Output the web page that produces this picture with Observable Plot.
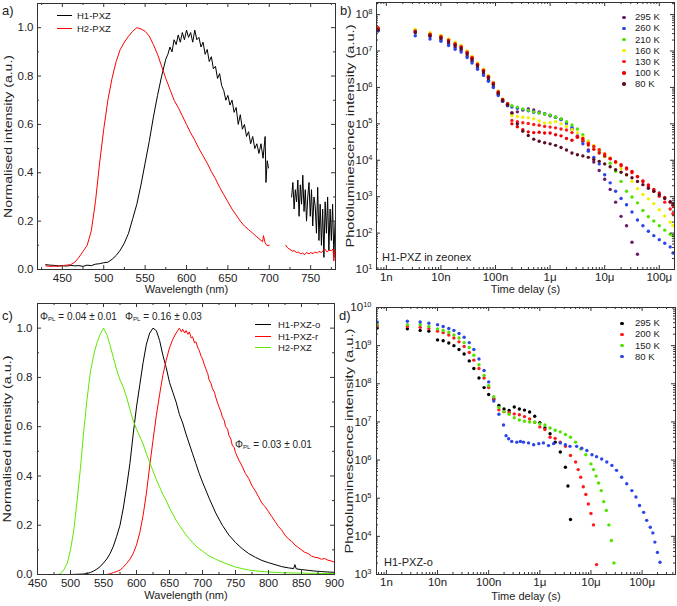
<!DOCTYPE html>
<html><head><meta charset="utf-8">
<script src="https://cdn.jsdelivr.net/npm/d3@7"></script>
<script src="https://cdn.jsdelivr.net/npm/@observablehq/plot@0.6"></script>
<style>
html,body{margin:0;padding:0;background:#fff;}
#root{position:relative;width:677px;height:606px;overflow:hidden;background:#fff;font-family:"Liberation Sans",Arial,sans-serif;color:#222;}
.pn{position:absolute;}
.pn svg{overflow:visible;display:block;}
.lb{position:absolute;white-space:nowrap;line-height:1;transform:translateY(-50%);}
.lb sub{font-size:0.62em;vertical-align:-0.25em;}
.sw{position:absolute;height:0;}
.dt{position:absolute;border-radius:50%;}
</style></head><body><div id="root"></div><script>
// ---------------- Panel a: steady-state spectra ----------------
const aH1Wave = [430,435,440,445,450,455,460,465,470,475,480,485,490,495,500,505,510,515,520,525,530,535,540,545,550,555,560,565,570,575,
577.5,580,582.5,585,587.5,590,592.5,595,597.5,600,602.5,605,607.5,610,612.5,615,617.5,620,622.5,625,627.5,630,632.5,635,637.5,640,642.5,645,647.5,650,652.5,655,657.5,660,662.5,665,667.5,670,672.5,675,677.5,680,682.5,685,687.5,690,692.5,695,
696,697.5,699,710,
727,728.5,730,731.5,733,734.5,736,737.5,739,740.5,742,743.5,745,746.5,748,749.5,751,752.5,754,755.5,757,758.5,760,761.5,763,764.5,766,767.5,769,770.5,772,773.5,775,776.5,778,779.5];
const aH1 = [.02,.018,.017,.015,.016,.014,.017,.015,.016,.013,.018,.016,.022,.024,.028,.03,.042,.058,.08,.11,.15,.21,.27,.35,.44,.53,.63,.72,.8,.87,
.89,.92,.9,.95,.93,.97,.94,.98,.95,.99,.96,.98,.94,.99,.95,.96,.92,.94,.89,.91,.86,.88,.83,.84,.79,.81,.76,.74,.7,.72,.68,.7,.65,.67,.6,.64,.58,.6,.55,.57,.52,.55,.5,.52,.48,.52,.46,.55,
.36,.45,.42,null,
.3,.36,.25,.33,.28,.37,.22,.35,.27,.39,.24,.33,.2,.3,.36,.22,.33,.18,.3,.26,.15,.34,.12,.27,.1,.25,.05,.28,.15,.3,.08,.25,.12,.27,.05,.2];
const aH2Wave = [430,435,440,445,450,455,460,465,470,475,480,485,490,495,500,505,510,515,520,525,530,535,540,545,550,555,560,565,570,575,580,585,590,595,600,605,610,615,620,625,630,635,640,645,650,655,660,665,670,675,680,685,690,
692,693,695,697,700,710,
720,722,725,728,730,733,735,738,740,743,745,748,750,753,755,758,760,763,765,767,770,772,775,777,778,779,780];
const aH2 = [.015,.013,.014,.013,.016,.018,.02,.03,.05,.075,.1,.16,.28,.44,.58,.7,.79,.86,.91,.94,.965,.985,1.0,.995,.985,.965,.93,.89,.84,.79,.745,.7,.67,.635,.6,.565,.535,.5,.47,.44,.405,.375,.34,.31,.28,.25,.225,.2,.18,.165,.15,.135,.12,
.115,.14,.11,.1,.1,null,
.1,.09,.083,.076,.078,.07,.072,.065,.068,.062,.07,.065,.07,.066,.072,.068,.075,.07,.078,.085,.072,.08,.078,.085,.035,.08,.085];
const aSeries = [["H1-PXZ", "#000000", aH1Wave, aH1], ["H2-PXZ", "#ff0000", aH2Wave, aH2]];
const aXTicks = [450,500,550,600,650,700,750], aXMinor = [425,475,525,575,625,675,725,775];
const linYTicks = [0,0.2,0.4,0.6,0.8,1.0], linYMinor = [0.1,0.3,0.5,0.7,0.9];

// ---------------- Panel b: H1-PXZ in zeonex, transient decay (log10 values) ----------------
const bTimeExp = [-9.15,-8.47,-8.2,-8.0,-7.86,-7.74,-7.63,-7.52,-7.43,-7.33,-7.22,-7.13,-7.04,-6.95,-6.87,-6.78,
-6.7,-6.6,-6.5,-6.4,-6.3,-6.2,-6.1,-6.0,-5.9,-5.8,-5.7,-5.6,-5.5,-5.4,-5.3,-5.2,-5.1,-5.0,-4.9,-4.8,-4.7,-4.6,-4.5,-4.4,-4.3,-4.2,-4.1,-4.0,-3.9,-3.8,-3.75];
const b295 = [7.58,7.5,7.4,7.3,7.2,7.1,7.02,6.86,6.72,6.54,6.38,6.2,6.02,5.8,5.62,5.5,
5.3,5.33,5.38,5.41,5.38,5.33,5.28,5.22,5.18,5.12,5.02,4.85,4.67,4.52,4.28,3.95,3.72,3.48,3.2,2.85,2.46,2.2,1.75,1.42,null,null,null,null,null,null,null];
const b260 = [7.55,7.42,7.33,7.27,7.15,7.05,6.97,6.82,6.67,6.5,6.33,6.17,6.0,5.78,5.62,5.5,
5.46,5.43,5.39,5.36,5.32,5.3,5.27,5.24,5.18,5.12,5.02,4.9,4.65,4.45,4.25,4.08,3.9,3.6,3.38,3.15,2.95,2.78,2.58,2.36,2.2,2.05,1.93,1.82,1.72,1.62,1.45];
const b210 = [7.6,7.57,7.48,7.42,7.32,7.22,7.14,6.99,6.84,6.66,6.49,6.31,6.12,5.88,5.68,5.57,
5.5,5.46,5.41,5.37,5.33,5.3,5.27,5.24,5.19,5.14,5.06,4.97,4.86,4.7,4.52,4.37,4.24,4.1,3.92,3.7,3.42,3.15,2.99,2.83,2.62,2.45,2.33,2.2,2.08,1.97,1.93];
const b160 = [7.63,7.6,7.5,7.43,7.33,7.24,7.15,7.0,6.85,6.67,6.5,6.33,6.14,5.9,5.68,5.55,
5.23,5.2,5.18,5.17,5.14,5.08,5.02,5.03,5.06,5.0,4.93,4.84,4.76,4.63,4.52,4.41,4.3,4.18,4.06,3.93,3.77,3.6,3.42,3.22,3.06,2.94,2.81,2.64,2.47,2.3,2.21];
const b130 = [7.64,7.55,7.46,7.4,7.3,7.2,7.12,6.97,6.82,6.64,6.47,6.3,6.12,5.88,5.67,5.55,
5.09,5.06,5.03,5.01,4.98,4.96,4.93,4.91,4.89,4.86,4.83,4.76,4.65,4.55,4.47,4.38,4.29,4.17,4.05,3.95,3.85,3.76,3.66,3.55,3.42,3.28,3.15,3.01,2.85,2.66,2.53];
const b100 = [7.6,7.53,7.44,7.37,7.28,7.18,7.1,6.95,6.8,6.62,6.45,6.28,6.1,5.86,5.66,5.54,
5.0,4.92,4.84,4.78,4.76,4.77,4.75,4.75,4.7,4.67,4.6,4.55,4.63,4.6,4.42,4.3,4.2,4.12,4.04,3.96,3.88,3.79,3.69,3.55,3.43,3.32,3.2,3.1,2.98,2.85,2.76];
const b80 = [7.58,7.52,7.42,7.35,7.25,7.15,7.07,6.92,6.77,6.6,6.43,6.26,6.08,5.84,5.64,5.52,
5.3,5.0,4.8,4.68,4.58,4.52,4.48,4.45,4.41,4.35,4.28,4.2,4.15,4.12,4.08,4.02,3.97,3.9,3.82,3.74,3.67,3.6,3.52,3.42,3.33,3.23,3.15,3.05,2.95,2.86,2.8];
const bSeries = [["295 K","#6a1b6b",b295],["260 K","#2a45e8",b260],["210 K","#4fe300",b210],["160 K","#f0f000",b160],["130 K","#ff1a1a",b130],["100 K","#ee0000",b100],["80 K","#5c0d22",b80]];

// ---------------- Panel c: steady-state spectra with PLQY ----------------
const cBlackWave = [450,500,520,525,530,535,540,545,550,555,560,565,570,575,580,585,590,595,600,605,610,615,620,625,630,635,640,645,650,655,660,665,670,675,680,685,690,695,700,
710,720,730,740,750,760,770,780,790,800,810,820,830,838,840,842,850,860,870,880,890,900];
const cBlack = [0,0,.002,.004,.008,.014,.022,.032,.047,.063,.085,.115,.155,.2,.27,.355,.45,.57,.68,.77,.86,.935,.98,1.0,.99,.95,.89,.84,.78,.74,.7,.65,.615,.57,.53,.49,.45,.41,.375,
.31,.25,.2,.16,.13,.105,.085,.07,.057,.048,.04,.032,.027,.024,.04,.023,.02,.017,.014,.012,.01,.009];
const cRedWave = [555,560,565,570,575,580,585,590,595,600,605,610,615,620,625,630,635,640,645,650,655,660,665,
668,670,673,675,678,680,683,685,688,690,693,695,698,700,703,705,708,710,713,715,718,720,723,725,728,730,733,735,738,740,743,745,748,750,
755,760,765,770,775,780,785,790,795,800,805,810,815,820,825,830,835,840,845,850,855,860,865,870,875,880,885,890,895,900];
const cRed = [0,.003,.008,.012,.018,.03,.045,.062,.085,.12,.17,.24,.33,.44,.545,.645,.73,.81,.87,.92,.955,.98,1.0,
.985,.995,.98,.99,.975,.985,.96,.965,.94,.945,.92,.91,.885,.875,.85,.835,.815,.79,.775,.755,.74,.72,.695,.68,.66,.64,.625,.6,.59,.565,.55,.525,.515,.495,
.465,.44,.41,.39,.36,.34,.315,.29,.275,.255,.235,.215,.195,.18,.16,.145,.135,.12,.11,.1,.09,.085,.075,.07,.068,.062,.065,.058,.055,.05];
const cGreenWave = [450,460,470,480,485,490,495,500,505,510,515,520,525,530,535,540,545,550,555,560,565,570,575,580,585,590,595,600,605,610,615,620,625,630,635,640,645,650,655,660,665,670,675,680,685,690,695,700,
710,720,730,740,750,760,770,780,790,800,810,820,830,840,850,860,870,880,890,900];
const cGreen = [0,0,0,0,.003,.02,.045,.1,.18,.3,.43,.58,.71,.82,.89,.94,.975,1.0,.975,.93,.88,.83,.79,.76,.72,.67,.625,.59,.56,.53,.49,.455,.42,.385,.355,.325,.3,.27,.245,.22,.2,.18,.16,.145,.13,.115,.105,.095,
.075,.062,.05,.04,.03,.024,.018,.015,.012,.01,.009,.007,.007,.006,.006,.005,.005,.004,.004,.004];
const cSeries = [["H1-PXZ-o","#000000",cBlackWave,cBlack],["H1-PXZ-r","#ff0000",cRedWave,cRed],["H2-PXZ","#5ee800",cGreenWave,cGreen]];
const cXTicks = [450,500,550,600,650,700,750,800,850,900], cXMinor = [475,525,575,625,675,725,775,825,875];
const cNotes = [["0.04 ± 0.01",40,317],["0.16 ± 0.03",125,317],["0.03 ± 0.01",235,445]];

// ---------------- Panel d: H1-PXZ-o transient decay (log10 values) ----------------
const dEarlyExp = [-9.18,-8.59,-8.34,-8.17,-8.0,-7.89,-7.78,-7.68,-7.58,-7.48,-7.38,-7.29,-7.19,-7.09,-7.0,-6.9,-6.8];
const d295T = dEarlyExp.concat([-6.7,-6.6,-6.5,-6.4,-6.3,-6.2,-6.1,-6.0,-5.9,-5.8,-5.7,-5.6,-5.5,-5.45,-5.4]);
const d295 = [9.46,9.44,9.4,9.38,9.15,9.13,9.07,9.0,8.9,8.78,8.6,8.4,8.15,7.9,7.72,7.6,7.43,
7.34,7.3,7.39,7.34,7.31,7.26,7.15,6.98,6.84,6.69,6.47,6.21,5.81,5.32,4.44];
const d200T = dEarlyExp.concat([-6.7,-6.6,-6.5,-6.4,-6.3,-6.2,-6.1,-6.0,-5.9,-5.8,-5.7,-5.6,-5.5,-5.4,-5.3,-5.25,-5.2,-5.15,-5.1,-5.05,-5.0,-4.95,-4.89]);
const d200 = [9.53,9.5,9.48,9.45,9.38,9.34,9.28,9.2,9.1,8.98,8.82,8.62,8.4,8.15,7.9,7.6,7.32,
7.27,7.24,7.21,7.19,7.14,7.08,6.99,6.87,6.8,6.6,6.57,6.47,6.36,6.12,5.95,5.75,5.55,5.3,5.1,4.85,4.6,4.3,3.26];
const d150T = dEarlyExp.concat([-6.7,-6.6,-6.5,-6.4,-6.3,-6.2,-6.1,-6.0,-5.9,-5.8,-5.7,-5.6,-5.5,-5.4,-5.3,-5.2,-5.1,-5.0,-4.95,-4.9,-4.85,-4.8,-4.75,-4.7,-4.65,-4.6,-4.55]);
const d150 = [9.57,9.55,9.55,9.5,9.44,9.4,9.35,9.28,9.2,9.08,8.95,8.75,8.5,8.22,7.95,7.66,7.38,
7.27,7.2,7.11,7.05,7.02,7.0,6.99,6.95,6.92,6.84,6.78,6.74,6.67,6.6,6.47,6.29,6.14,5.9,5.75,5.58,5.4,5.2,4.91,4.68,4.3,3.89,3.3];
const d80T = dEarlyExp.concat([-6.71,-6.66,-6.61,-6.55,-6.45,-6.38,-6.32,-6.22,-6.12,-6.02,-5.93,-5.83,-5.73,-5.6,-5.5,-5.41,-5.28,-5.18,-5.08,-4.98,-4.89,-4.79,-4.69,-4.59,-4.5,-4.4,-4.3,-4.2,-4.12,-4.05,-3.97,-3.91,-3.84,-3.79,-3.75,-3.7,-3.65]);
const d80 = [9.62,9.64,9.62,9.59,9.55,9.5,9.45,9.4,9.32,9.22,9.08,8.9,8.65,8.35,8.05,7.55,7.2,
6.92,6.64,6.56,6.49,6.47,6.49,6.47,6.45,6.4,6.43,6.45,6.38,6.43,6.45,6.4,6.36,6.36,6.31,6.25,6.14,6.09,6.03,5.95,5.86,5.73,5.55,5.38,5.2,5.03,4.81,4.63,4.42,4.24,4.09,3.85,3.58,3.32];
const dSeries = [["295 K","#000000",d295T,d295],["200 K","#ff1a1a",d200T,d200],["150 K","#4fe300",d150T,d150],["80 K","#2a45e8",d80T,d80]];

const timeTicks = [1e-9,1e-8,1e-7,1e-6,1e-5,1e-4];
const timeLabels = ["1n","10n","100n","1μ","10μ","100μ"];

// ---------------- helpers ----------------
const root = document.getElementById("root");
const FONT = '"Liberation Sans", Arial, sans-serif';
const AX = "#333";
function logMinor(lo, hi) {
  const out = [];
  for (let e = Math.floor(Math.log10(lo)) - 1; e <= Math.ceil(Math.log10(hi)); e++)
    for (let m = 2; m <= 9; m++) { const v = m * Math.pow(10, e); if (v > lo && v < hi) out.push(v); }
  return out;
}
const tFmt = d => timeLabels[timeTicks.indexOf(d)];
const powFmt = d => "10^" + Math.round(Math.log10(d));

function panel(o) {
  const [mt, mr, mb, ml] = o.margins;
  const W = o.width - ml - mr, H = o.height - mt - mb;
  const marks = [
    ...o.marks,
    Plot.tickX(o.xTicks, {x: d => d, insetTop: H - 4, stroke: AX}),
    Plot.tickX(o.xTicks, {x: d => d, insetBottom: H - 4, stroke: AX}),
    Plot.tickX(o.xMinor, {x: d => d, insetTop: H - 2, stroke: AX}),
    Plot.tickX(o.xMinor, {x: d => d, insetBottom: H - 2, stroke: AX}),
    Plot.tickY(o.yTicks, {y: d => d, insetRight: W - 4, stroke: AX}),
    Plot.tickY(o.yTicks, {y: d => d, insetLeft: W - 4, stroke: AX}),
    Plot.tickY(o.yMinor, {y: d => d, insetRight: W - 2, stroke: AX}),
    Plot.tickY(o.yMinor, {y: d => d, insetLeft: W - 2, stroke: AX}),
    Plot.frame({stroke: AX}),
    Plot.axisX(o.xTicks, {tickSize: 0, tickPadding: o.xPad, tickFormat: o.xFmt, label: null, fontSize: 11.5}),
    Plot.axisY(o.yTicks, {tickSize: 0, tickPadding: o.yPad, tickFormat: o.yFmt, label: null, fontSize: 11.5}),
    Plot.text([o.xTitle], {text: d => d, frameAnchor: "bottom", dy: o.xTitleDy, fontSize: 11}),
    Plot.text([o.yTitle], {text: d => d, frameAnchor: "left", dx: o.yTitleDx, rotate: -90, fontSize: 11.5})
  ];
  const svg = Plot.plot({
    width: o.width, height: o.height,
    marginTop: mt, marginRight: mr, marginBottom: mb, marginLeft: ml,
    x: o.x, y: o.y,
    style: {fontFamily: FONT, fontSize: "12px", color: "#222", background: "transparent", overflow: "visible"},
    marks
  });
  const s = d3.select(svg);
  s.selectAll("text").filter(function() { return this.textContent === o.yTitle; })
    .attr("text-anchor", "start").attr("x", -o.yTitleLen / 2)
    .attr("textLength", o.yTitleLen).attr("lengthAdjust", "spacingAndGlyphs");
  if (o.logY) {
    s.selectAll("text").filter(function() { return /^10\^/.test(this.textContent); }).each(function() {
      const [b, e] = this.textContent.split("^");
      const t = d3.select(this); t.text(null);
      t.append("tspan").text(b);
      t.append("tspan").attr("dy", "-0.55em").attr("font-size", "7.5px").text(e);
    });
  }
  const div = document.createElement("div");
  div.className = "pn"; div.style.left = o.left + "px"; div.style.top = o.top + "px";
  div.appendChild(svg); root.appendChild(div);
}
function label(html, x, y, size) {
  const el = document.createElement("div");
  el.className = "lb"; el.style.left = x + "px"; el.style.top = y + "px"; el.style.fontSize = size + "px";
  el.innerHTML = html; root.appendChild(el);
}
function swatchLine(x, y, w, color) {
  const el = document.createElement("div");
  el.className = "sw"; el.style.left = x + "px"; el.style.top = (y - 0.75) + "px"; el.style.width = w + "px";
  el.style.borderTop = "1.5px solid " + color; root.appendChild(el);
}
function swatchDot(x, y, color) {
  const el = document.createElement("div");
  el.className = "dt"; el.style.left = (x - 1.8) + "px"; el.style.top = (y - 1.8) + "px";
  el.style.width = "3.6px"; el.style.height = "3.6px"; el.style.background = color; root.appendChild(el);
}
const lineRows = (wave, vals) => wave.map((w, i) => ({w, v: vals[i]}));
const dotRows = (texp, vals) => texp.map((e, i) => ({t: Math.pow(10, e), v: vals[i] == null ? null : Math.pow(10, vals[i])})).filter(d => d.v != null);

// ---------------- Panel a ----------------
panel({
  left: 0, top: 0, width: 338, height: 300, margins: [3, 3, 31, 37],
  x: {domain: [420, 780]}, y: {domain: [0, 1.1]},
  marks: aSeries.map(([n, c, w, v]) => Plot.line(lineRows(w, v), {x: "w", y: "v", stroke: c, strokeWidth: 1, clip: true})),
  xTicks: aXTicks, xMinor: aXMinor, yTicks: linYTicks, yMinor: linYMinor,
  xFmt: d => String(d), yFmt: d => d.toFixed(1), xPad: 4, yPad: 4,
  xTitle: "Wavelength (nm)", xTitleDy: 23, yTitle: "Normalised intensity (a.u.)", yTitleDx: -29, yTitleLen: 163
});

// ---------------- Panel b ----------------
panel({
  left: 338, top: 0, width: 339, height: 300, margins: [2, 3, 31, 38],
  x: {type: "log", domain: [6.6e-10, 1.9e-4]}, y: {type: "log", domain: [10, 2.15e8]},
  marks: bSeries.map(([n, c, v]) => Plot.dot(dotRows(bTimeExp, v), {x: "t", y: "v", fill: c, r: 1.7, clip: true})),
  xTicks: timeTicks, xMinor: logMinor(6.6e-10, 1.9e-4),
  yTicks: [1e1,1e2,1e3,1e4,1e5,1e6,1e7,1e8], yMinor: logMinor(10, 2.15e8),
  xFmt: tFmt, yFmt: powFmt, xPad: 3, yPad: 4, logY: true,
  xTitle: "Time delay (s)", xTitleDy: 23.5, yTitle: "Photoluminescence intensity (a.u.)", yTitleDx: -26, yTitleLen: 223
});

// ---------------- Panel c ----------------
panel({
  left: 0, top: 300, width: 338, height: 306, margins: [3, 4, 32, 37],
  x: {domain: [450, 900]}, y: {domain: [0, 1.1]},
  marks: cSeries.map(([n, c, w, v]) => Plot.line(lineRows(w, v), {x: "w", y: "v", stroke: c, strokeWidth: 1, clip: true})),
  xTicks: cXTicks, xMinor: cXMinor, yTicks: linYTicks, yMinor: linYMinor,
  xFmt: d => String(d), yFmt: d => d.toFixed(1), xPad: 4.5, yPad: 5,
  xTitle: "Wavelength (nm)", xTitleDy: 24.5, yTitle: "Normalised intensity (a.u.)", yTitleDx: -30, yTitleLen: 167
});

// ---------------- Panel d ----------------
panel({
  left: 338, top: 300, width: 339, height: 306, margins: [7, 2, 32, 38],
  x: {type: "log", domain: [6.4e-10, 4.5e-4]}, y: {type: "log", domain: [1e3, 1e10]},
  marks: dSeries.map(([n, c, t, v]) => Plot.dot(dotRows(t, v), {x: "t", y: "v", fill: c, r: 1.7, clip: true})),
  xTicks: timeTicks, xMinor: logMinor(6.4e-10, 4.5e-4),
  yTicks: [1e3,1e4,1e5,1e6,1e7,1e8,1e9,1e10], yMinor: logMinor(1e3, 1e10),
  xFmt: tFmt, yFmt: powFmt, xPad: 3, yPad: 5, logY: true,
  xTitle: "Time delay (s)", xTitleDy: 25, yTitle: "Photoluminescence intensity (a.u.)", yTitleDx: -27, yTitleLen: 225
});

// ---------------- legends, annotations, panel letters ----------------
aSeries.forEach(([n, c], i) => { swatchLine(57, 16 + 12.5 * i, 15, c); label(n, 77, 16 + 12.5 * i, 9.5); });
bSeries.forEach(([n, c], i) => { swatchDot(624, 17.3 + 11.1 * i, c); label(n, 635, 17.3 + 11.1 * i, 9.5); });
cSeries.forEach(([n, c], i) => { swatchLine(255, 325 + 11.6 * i, 16, c); label(n, 278, 325 + 11.6 * i, 9.5); });
dSeries.forEach(([n, c], i) => { swatchDot(622, 323.3 + 11.1 * i, c); label(n, 635, 323.3 + 11.1 * i, 9.5); });
cNotes.forEach(([v, x, y]) => label("Φ<sub>PL</sub> = " + v, x, y, 10));
label("H1-PXZ in zeonex", 382, 257, 11);
label("H1-PXZ-o", 384, 562, 11);
label("a)", 2, 10, 13); label("b)", 340, 10, 13); label("c)", 2, 315, 13); label("d)", 339, 315, 13);
</script></body></html>
